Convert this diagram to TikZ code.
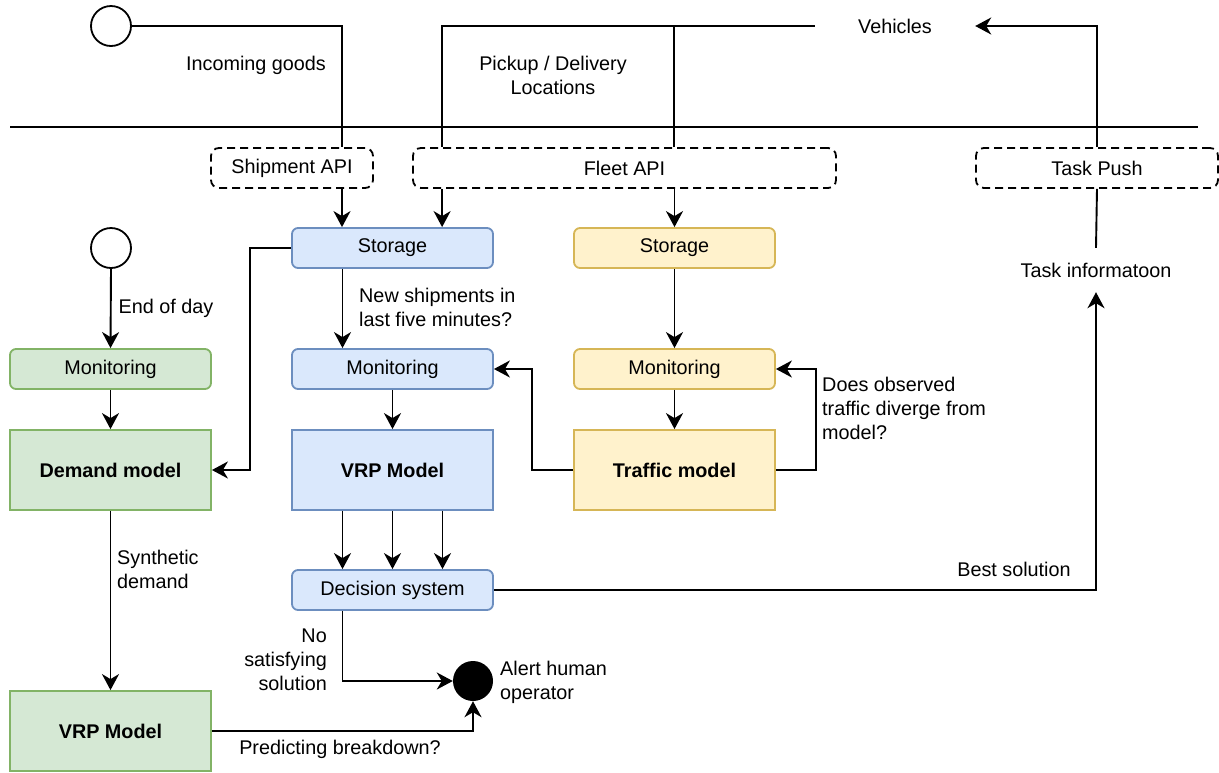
\documentclass[tikz,border=0pt]{standalone}
\usepackage{fontspec}
\setmainfont{Liberation Sans}
\usetikzlibrary{arrows.meta}
\definecolor{bfill}{HTML}{DAE8FC}\definecolor{bdraw}{HTML}{6C8EBF}
\definecolor{gfill}{HTML}{D5E8D4}\definecolor{gdraw}{HTML}{82B366}
\definecolor{yfill}{HTML}{FFF2CC}\definecolor{ydraw}{HTML}{D6B656}
\begin{document}
\begin{tikzpicture}[x=1pt,y=-1pt,
  every node/.style={font=\fontsize{19.8pt}{24pt}\selectfont, text=black},
  lbl/.style={inner sep=0pt},
  smallbox/.style={draw, line width=1.8pt, minimum width=201pt, minimum height=40pt, rounded corners=6pt, inner sep=0pt},
  bigbox/.style={draw, line width=1.8pt, minimum width=201pt, minimum height=80pt, inner sep=0pt, font=\fontsize{19.8pt}{24pt}\selectfont\bfseries},
  bluec/.style={fill=bfill, draw=bdraw},
  greenc/.style={fill=gfill, draw=gdraw},
  yellowc/.style={fill=yfill, draw=ydraw},
  apibox/.style={draw, line width=1.8pt, dash pattern=on 8pt off 5pt, minimum height=40pt, rounded corners=8pt, inner sep=0pt},
  ring/.style={circle, draw, line width=1.8pt, minimum size=40pt, inner sep=0pt},
  conn/.style={line width=1.9pt},
  arr/.style={conn, -{Stealth[length=16pt,width=17pt,inset=5pt]}},
]
\useasboundingbox (0,0) rectangle (1219,772);

% separator
\coordinate (sepL) at (10,127);
\coordinate (sepR) at (1198,127);
\draw[conn] (sepL) -- (sepR);

% top nodes
\node[ring] (c1) at (111,26) {};
\node[lbl] (veh) at (895,26) [minimum width=160pt, minimum height=20pt] {Vehicles};
\node[lbl] at (256,65) {Incoming goods};
\node[lbl, align=center] at (553,75) {Pickup / Delivery\\Locations};

% API boxes
\node[apibox, minimum width=162pt, fill=white] (ship) at (292,168) {Shipment API};
\node[apibox, minimum width=423pt, fill=white] (fleet) at (624.5,168) {Fleet API};
\node[apibox, minimum width=242pt, fill=white] (tp) at (1097,168) {Task Push};

% storage / monitoring / models
\node[smallbox, bluec] (stor1) at (392.5,248) {Storage};
\node[smallbox, yellowc] (stor2) at (674.5,248) {Storage};
\node[ring] (c2) at (111,248) {};
\node[smallbox, greenc] (mon0) at (110.5,369) {Monitoring};
\node[smallbox, bluec] (mon1) at (392.5,369) {Monitoring};
\node[smallbox, yellowc] (mon2) at (674.5,369) {Monitoring};
\node[bigbox, greenc] (dem) at (110.5,470) {Demand model};
\node[bigbox, bluec] (vrp1) at (392.5,470) {VRP Model};
\node[bigbox, yellowc] (traf) at (674.5,470) {Traffic model};
\node[smallbox, bluec] (dec) at (392.5,590) {Decision system};
\node[bigbox, greenc] (vrp2) at (110.5,731) {VRP Model};
\node[circle, fill=black, minimum size=40pt, inner sep=0pt] (alert) at (473,681) {};
\node[lbl, minimum height=44pt] (ti) at (1096,270) {Task informatoon};

% top connectors
\draw[conn] (c1.east) -| ([xshift=50pt]ship.north);
\draw[conn] ([xshift=30pt]fleet.north west) |- (veh.west);
\draw[conn] ([xshift=262pt]fleet.north west) -- ([xshift=262pt]fleet.north west |- veh.west);
\draw[arr] (tp.north) |- (veh.east);

% API to storage
\draw[arr] ([xshift=50pt]ship.south) -- ([xshift=50pt]ship.south |- stor1.north);
\draw[arr] ([xshift=30pt]fleet.south west) -- ([xshift=30pt]fleet.south west |- stor1.north);
\draw[arr] (fleet.south -| stor2.north) -- (stor2.north);

% left column
\draw[arr] (c2.south) -- (mon0.north) node[lbl, pos=0.5, anchor=west, xshift=7pt] {End of day};
\draw[arr] (mon0.south) -- (dem.north);
\draw[arr] (dem.south) -- (vrp2.north);
\node[lbl, anchor=west, align=left] at (117,569) {Synthetic\\demand};
\draw[arr] (stor1.west) -- ++(-41,0) |- (dem.east);

% blue column
\draw[arr] ([xshift=-50pt]stor1.south) -- ([xshift=-50pt]mon1.north);
\node[lbl, anchor=west, align=left] at (359,307) {New shipments in\\last five minutes?};
\draw[arr] (mon1.south) -- (vrp1.north);
\draw[arr] ([xshift=-50pt]vrp1.south) -- ([xshift=-50pt]dec.north);
\draw[arr] (vrp1.south) -- (dec.north);
\draw[arr] ([xshift=50pt]vrp1.south) -- ([xshift=50pt]dec.north);

% yellow column
\draw[arr] (stor2.south) -- (mon2.north);
\draw[arr] (mon2.south) -- (traf.north);
\draw[arr] (traf.west) -- ++(-41,0) |- (mon1.east);
\draw[arr] (traf.east) -- ++(40,0) |- (mon2.east);
\node[lbl, anchor=west, align=left] at (822,408) {Does observed\\traffic diverge from\\model?};

% decision outputs
\draw[arr] (dec.east) -| (ti.south);
\node[lbl] at (1014,569) {Best solution};
\draw[conn] (ti.north) -- (tp.south);
\draw[arr] ([xshift=-50pt]dec.south) |- (alert.west);
\node[lbl, anchor=east, align=right] at (327,660) {No\\satisfying\\solution};
\node[lbl, anchor=west, align=left] at (500,682) {Alert human\\operator};
\draw[arr] (vrp2.east) -| (alert.south);
\node[lbl] at (340,749) {Predicting breakdown?};
\end{tikzpicture}
\end{document}
